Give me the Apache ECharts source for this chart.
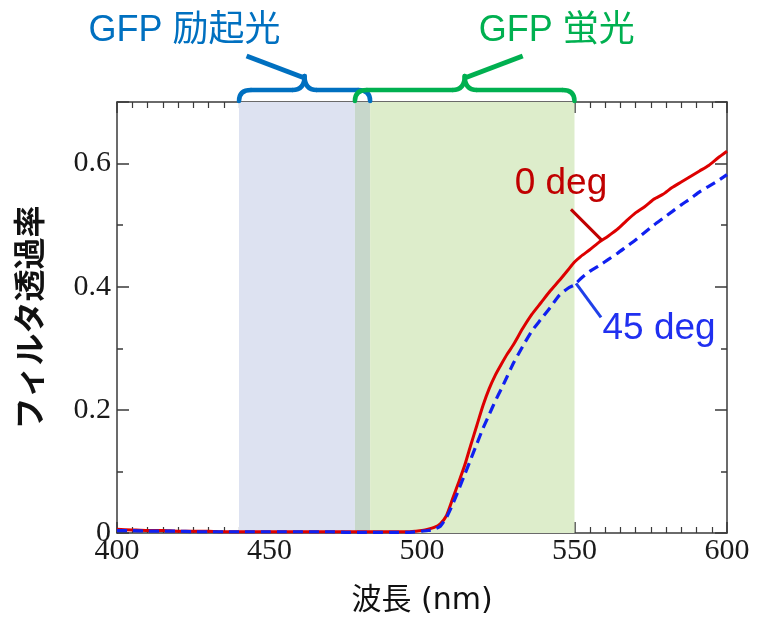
<!DOCTYPE html>
<html>
<head>
<meta charset="utf-8">
<script src="https://cdn.jsdelivr.net/npm/echarts@6/dist/echarts.min.js"></script>
<style>
  html, body { margin: 0; padding: 0; background: #fff; }
  #chart { width: 758px; height: 631px; }
</style>
</head>
<body>
<div id="chart"></div>
<script>
// Wavelength samples (nm)
var wavelength = [400,405,410,415,420,425,430,435,440,445,450,455,460,465,470,475,480,485,490,495,498,500,502,504,506,508,510,512,514,516,518,520,522,524,526,528,530,533,536,539,542,545,548,550,552,555,558,561,564,567,570,573,576,579,582,585,588,591,594,597,600];
// Filter transmittance at 0 deg incidence
var trans0 = [0.006,0.005,0.004,0.004,0.003,0.003,0.003,0.002,0.002,0.002,0.002,0.002,0.002,0.002,0.002,0.002,0.002,0.002,0.002,0.002,0.003,0.004,0.006,0.009,0.015,0.028,0.055,0.082,0.110,0.143,0.175,0.207,0.234,0.256,0.274,0.291,0.306,0.332,0.355,0.374,0.393,0.410,0.428,0.440,0.449,0.460,0.472,0.482,0.493,0.507,0.520,0.530,0.542,0.550,0.561,0.570,0.579,0.588,0.597,0.609,0.620];
// Filter transmittance at 45 deg incidence
var trans45 = [0.004,0.004,0.003,0.003,0.003,0.002,0.002,0.002,0.002,0.002,0.002,0.002,0.002,0.002,0.002,0.001,0.001,0.001,0.001,0.001,0.002,0.003,0.004,0.006,0.011,0.025,0.046,0.070,0.095,0.120,0.145,0.170,0.192,0.214,0.234,0.255,0.276,0.303,0.328,0.347,0.366,0.386,0.398,0.403,0.413,0.425,0.434,0.444,0.454,0.465,0.476,0.488,0.500,0.511,0.522,0.533,0.543,0.554,0.563,0.572,0.582];
// GFP excitation / emission bands (nm)
var excitationBand = [440, 483];
var emissionBand = [478, 550];
var xTicks = [400, 450, 500, 550, 600];
var yTicks = [0, 0.2, 0.4, 0.6];
// Callout anchors on each curve (nm)
var callout0 = 559;
var callout45 = 550.5;

var seriesRed = wavelength.map(function (w, i) { return [w, trans0[i]]; });
var seriesBlue = wavelength.map(function (w, i) { return [w, trans45[i]]; });

var chart = echarts.init(document.getElementById('chart'), null, { renderer: 'canvas' });

var axisColor = '#3a3a3a';
var serif = "'Liberation Serif', 'DejaVu Serif', serif";
var sans = "'Liberation Sans', 'Noto Sans CJK JP', sans-serif";

function xAxisDef(pos, show) {
  return {
    type: 'value', position: pos, min: xTicks[0], max: xTicks[xTicks.length - 1],
    interval: xTicks[1] - xTicks[0],
    axisLine: { show: true, onZero: false, lineStyle: { color: axisColor, width: 1.5 } },
    axisTick: { show: true, inside: true, length: 11, lineStyle: { color: axisColor, width: 1.5 } },
    minorTick: { show: true, splitNumber: 10, length: 6, lineStyle: { color: axisColor, width: 1.2 } },
    splitLine: { show: false },
    axisLabel: {
      show: show, margin: 3, fontFamily: serif, fontSize: 30, color: '#1a1a1a',
      showMinLabel: true, showMaxLabel: true
    },
    name: show ? '波長 (nm)' : '',
    nameLocation: 'middle', nameGap: 53,
    nameTextStyle: { fontFamily: "'DejaVu Sans', 'Noto Sans CJK JP', sans-serif", fontSize: 30, color: '#111' }
  };
}

function yAxisDef(pos, interval, tickLen, show, line) {
  return {
    type: 'value', position: pos, min: 0, max: 0.7, interval: interval,
    axisLine: { show: line, onZero: false, lineStyle: { color: axisColor, width: 1.5 } },
    axisTick: { show: true, inside: true, length: tickLen, lineStyle: { color: axisColor, width: 1.5 } },
    splitLine: { show: false },
    axisLabel: {
      show: show, margin: 6, fontFamily: serif, fontSize: 30, color: '#1a1a1a',
      formatter: function (v) {
        for (var k = 0; k < yTicks.length; k++) {
          if (Math.abs(v - yTicks[k]) < 1e-6) return yTicks[k] === 0 ? '0' : yTicks[k].toFixed(1);
        }
        return '';
      }
    },
    name: show ? 'フィルタ透過率' : '',
    nameLocation: 'middle', nameGap: 72,
    nameTextStyle: { fontFamily: "'Noto Sans CJK JP', sans-serif", fontSize: 32, fontWeight: 'bold', color: '#111' }
  };
}

var blueFill = '#dde2f1', greenFill = '#ddedcb', overlapFill = '#c7d7cb';

var option = {
  animation: false,
  grid: { left: 117, right: 31, top: 102, bottom: 98, containLabel: false },
  xAxis: [xAxisDef('bottom', true), xAxisDef('top', false)],
  yAxis: [
    yAxisDef('left', 0.2, 12, true, true),
    yAxisDef('left', 0.1, 6, false, false),
    yAxisDef('right', 0.2, 12, false, true),
    yAxisDef('right', 0.1, 6, false, false)
  ],
  series: [
    {
      type: 'line', name: 'bands', data: [], xAxisIndex: 0, yAxisIndex: 0, silent: true, z: -1,
      markArea: {
        silent: true,
        label: { show: false },
        data: [
          [{ xAxis: excitationBand[0], itemStyle: { color: blueFill } }, { xAxis: emissionBand[0] }],
          [{ xAxis: emissionBand[0], itemStyle: { color: overlapFill } }, { xAxis: excitationBand[1] }],
          [{ xAxis: excitationBand[1], itemStyle: { color: greenFill } }, { xAxis: emissionBand[1] }]
        ]
      }
    },
    {
      type: 'line', name: '0 deg', data: seriesRed, xAxisIndex: 0, yAxisIndex: 0,
      showSymbol: false, smooth: 0.2, clip: false,
      lineStyle: { color: '#dd0000', width: 3 }, z: 3
    },
    {
      type: 'line', name: '45 deg', data: seriesBlue, xAxisIndex: 0, yAxisIndex: 0,
      showSymbol: false, smooth: 0.2, clip: false,
      lineStyle: { color: '#1020f0', width: 3.2, type: [10, 6] }, z: 4
    }
  ]
};
chart.setOption(option);

function px(x, y) { return chart.convertToPixel({ xAxisIndex: 0, yAxisIndex: 0 }, [x, y]); }
function interp(arr, w) {
  for (var i = 1; i < wavelength.length; i++) {
    if (w <= wavelength[i]) {
      var t = (w - wavelength[i - 1]) / (wavelength[i] - wavelength[i - 1]);
      return arr[i - 1] + t * (arr[i] - arr[i - 1]);
    }
  }
  return arr[arr.length - 1];
}

// Curly brace over a band, tip pointing up, built from line and quadratic curve pieces
function brace(x0, x1, yb, yh, yt, color) {
  var xm = (x0 + x1) / 2, r = 12;
  var st = { fill: null, stroke: color, lineWidth: 4.5, lineCap: 'round' };
  function q(ax, ay, cx, cy, bx, by) {
    return { type: 'bezierCurve', shape: { x1: ax, y1: ay, cpx1: cx, cpy1: cy, x2: bx, y2: by }, style: st, z: 10 };
  }
  function l(ax, ay, bx, by) {
    return { type: 'line', shape: { x1: ax, y1: ay, x2: bx, y2: by }, style: st, z: 10 };
  }
  return [
    q(x0, yb, x0, yh, x0 + r, yh),
    l(x0 + r, yh, xm - r, yh),
    q(xm - r, yh, xm, yh, xm, yt),
    q(xm, yt, xm, yh, xm + r, yh),
    l(xm + r, yh, x1 - r, yh),
    q(x1 - r, yh, x1, yh, x1, yb)
  ];
}

var plotTop = px(400, 0.7)[1];
var exL = px(excitationBand[0], 0)[0], exR = px(excitationBand[1], 0)[0];
var emL = px(emissionBand[0], 0)[0], emR = px(emissionBand[1], 0)[0];
var exM = (exL + exR) / 2, emM = (emL + emR) / 2;
var braceBottom = plotTop - 1, braceMid = plotTop - 12, braceTip = plotTop - 26;
var exColor = '#0070c0', emColor = '#00b050';

var p0 = px(callout0, interp(trans0, callout0));
var p45 = px(callout45, interp(trans45, callout45));

var elements = []
  .concat(brace(exL, exR, braceBottom, braceMid, braceTip, exColor))
  .concat(brace(emL, emR, braceBottom, braceMid, braceTip, emColor))
  .concat([
    { type: 'line', shape: { x1: exM, y1: braceTip + 2, x2: exM - 58, y2: braceTip - 20 }, style: { stroke: exColor, lineWidth: 5 }, z: 10 },
    { type: 'text', x: exM - 120, y: 31, style: { text: 'GFP 励起光', fill: exColor, font: '36px ' + sans, align: 'center', verticalAlign: 'middle' }, z: 10 },
    { type: 'line', shape: { x1: emM, y1: braceTip + 2, x2: emM + 58, y2: braceTip - 20 }, style: { stroke: emColor, lineWidth: 5 }, z: 10 },
    { type: 'text', x: emM + 92, y: 31, style: { text: 'GFP 蛍光', fill: emColor, font: '36px ' + sans, align: 'center', verticalAlign: 'middle' }, z: 10 },
    { type: 'line', shape: { x1: p0[0], y1: p0[1], x2: p0[0] - 31, y2: p0[1] - 31 }, style: { stroke: '#c00000', lineWidth: 3 }, z: 10 },
    { type: 'text', x: p0[0] - 41, y: p0[1] - 57, style: { text: '0 deg', fill: '#c00000', font: '37px ' + sans, align: 'center', verticalAlign: 'middle' }, z: 10 },
    { type: 'line', shape: { x1: p45[0], y1: p45[1], x2: p45[0] + 25, y2: p45[1] + 34 }, style: { stroke: '#2040e8', lineWidth: 3 }, z: 10 },
    { type: 'text', x: p45[0] + 83, y: p45[1] + 45, style: { text: '45 deg', fill: '#2030f0', font: '37px ' + sans, align: 'center', verticalAlign: 'middle' }, z: 10 }
  ]);

chart.setOption({ graphic: elements });
</script>
</body>
</html>
